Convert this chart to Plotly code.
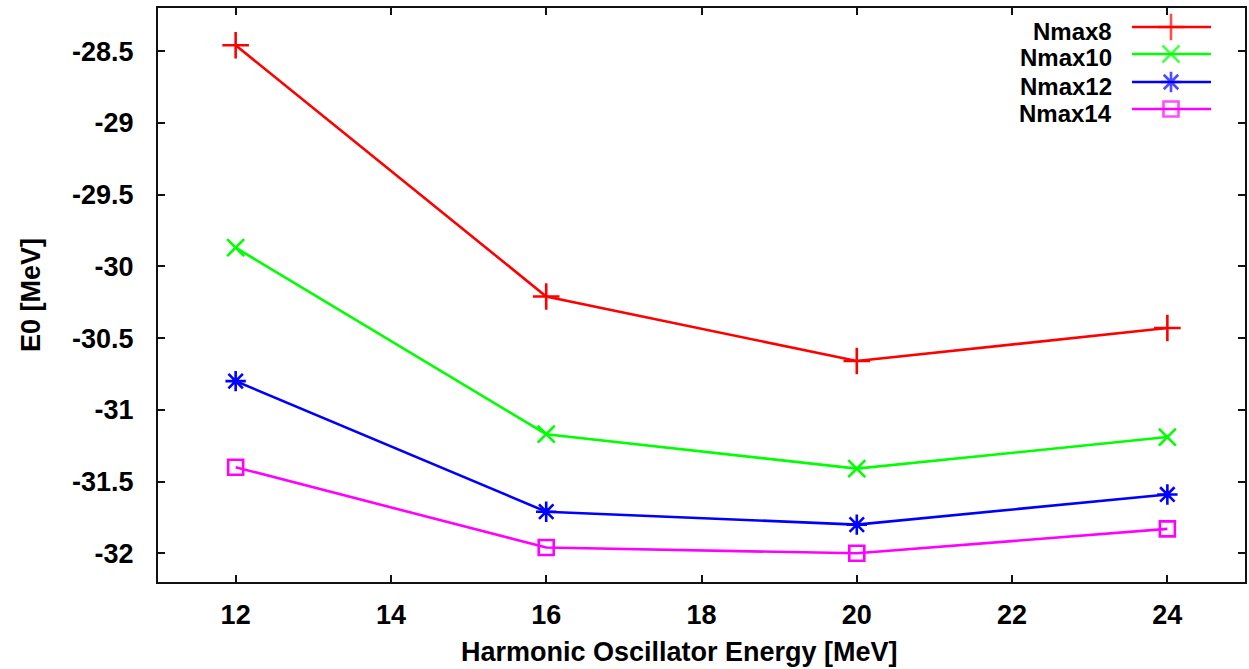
import plotly.graph_objects as go

# ---- data ----
hw = [12, 16, 20, 24]
nmax8 = [-28.46, -30.21, -30.66, -30.43]
nmax10 = [-29.87, -31.17, -31.41, -31.19]
nmax12 = [-30.80, -31.71, -31.80, -31.59]
nmax14 = [-31.40, -31.96, -32.00, -31.83]
series_names = ["Nmax8", "Nmax10", "Nmax12", "Nmax14"]

x_tick_vals = [12, 14, 16, 18, 20, 22, 24]
x_tick_labels = ["12", "14", "16", "18", "20", "22", "24"]
y_tick_vals = [-28.5, -29, -29.5, -30, -30.5, -31, -31.5, -32]
y_tick_labels = ["-28.5", "-29", "-29.5", "-30", "-30.5", "-31", "-31.5", "-32"]

# ---- styles ----
colors = ["#ff0000", "#00ff00", "#0000ff", "#ff00ff"]
symbols = ["cross-thin", "x-thin", "asterisk", "square-open"]
sizes = [19, 17, 17, 15]
FONT = "Liberation Sans, Arial, sans-serif"

W, H = 1249, 669
L, R, T, B = 158, 4, 8, 87
pw, ph = W - L - R, H - T - B

fig = go.Figure()
all_series = [nmax8, nmax10, nmax12, nmax14]
for name, ys, c, s, sz in zip(series_names, all_series, colors, symbols, sizes):
    fig.add_trace(go.Scatter(
        x=hw, y=ys, mode="lines+markers", name=name,
        line=dict(color=c, width=2.6),
        marker=dict(symbol=s, size=sz, color=c, line=dict(color=c, width=2.6)),
        showlegend=False,
    ))

# ---- manual legend (text left of sample, gnuplot style) ----
def px_to_paper_x(px):
    return (px - L) / pw

def px_to_paper_y(py):
    return (H - B - py) / ph

row_y = [27, 54, 82, 109]
x0, xm, x1 = px_to_paper_x(1132), px_to_paper_x(1171), px_to_paper_x(1211)
annotations = []
for name, c, s, sz, ry in zip(series_names, colors, symbols, sizes, row_y):
    yp = px_to_paper_y(ry)
    fig.add_trace(go.Scatter(
        x=[x0, xm, x1], y=[yp, yp, yp], xaxis="x2", yaxis="y2",
        mode="lines+markers", line=dict(color=c, width=2.6),
        marker=dict(symbol=s, size=[0, sz, 0], color=c, line=dict(color=c, width=2.6)),
        showlegend=False, hoverinfo="skip",
    ))
    annotations.append(dict(
        x=px_to_paper_x(1114), y=px_to_paper_y(ry + 4), xref="paper", yref="paper",
        text=name, showarrow=False, xanchor="right", yanchor="middle",
        font=dict(family=FONT, size=24, color="black", weight="bold"),
    ))

annotations.append(dict(
    x=px_to_paper_x(679), y=px_to_paper_y(652), xref="paper", yref="paper",
    text="Harmonic Oscillator Energy [MeV]", showarrow=False,
    xanchor="center", yanchor="middle",
    font=dict(family=FONT, size=27, color="black", weight="bold"),
))
annotations.append(dict(
    x=px_to_paper_x(31), y=px_to_paper_y(295), xref="paper", yref="paper",
    text="E0 [MeV]", showarrow=False, textangle=-90,
    xanchor="center", yanchor="middle",
    font=dict(family=FONT, size=27, color="black", weight="bold"),
))

axis_common = dict(
    showgrid=False, zeroline=False, showline=True, linecolor="#111111", linewidth=2,
    mirror="allticks", ticks="inside", ticklen=7, tickwidth=1.5, tickcolor="#111111",
    tickfont=dict(family=FONT, size=27, color="black", weight="bold"),
    automargin=False,
)

fig.update_layout(
    width=W, height=H,
    margin=dict(l=L, r=R, t=T, b=B),
    paper_bgcolor="white", plot_bgcolor="white",
    xaxis=dict(range=[11, 25], tickvals=x_tick_vals, ticktext=x_tick_labels,
               ticklabelstandoff=8, **axis_common),
    yaxis=dict(range=[-32.2, -28.2], tickvals=y_tick_vals, ticktext=y_tick_labels,
               ticklabelstandoff=17, **axis_common),
    xaxis2=dict(overlaying="x", range=[0, 1], visible=False, fixedrange=True),
    yaxis2=dict(overlaying="y", range=[0, 1], visible=False, fixedrange=True),
    annotations=annotations,
    showlegend=False,
)

fig.write_html(
    "out.html",
    config={"displayModeBar": False},
    post_script="document.body.style.margin='0';document.body.style.overflow='hidden';",
)
